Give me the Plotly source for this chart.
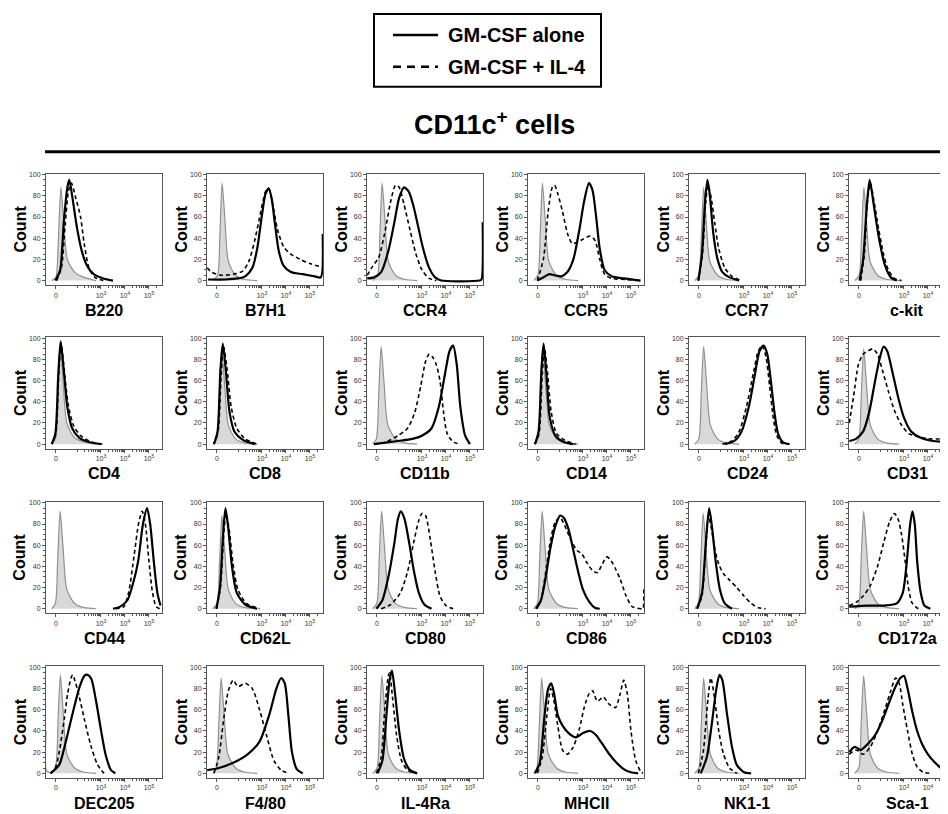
import math
import plotly.graph_objects as go

# ---------------- data (x in axis display units: 0 -> ~1.125, 10^3 -> 3, 10^4 -> 4, 10^5 -> 5) ----------------
MARKERS = ["B220", "B7H1", "CCR4", "CCR5", "CCR7", "c-kit",
           "CD4", "CD8", "CD11b", "CD14", "CD24", "CD31",
           "CD44", "CD62L", "CD80", "CD86", "CD103", "CD172a",
           "DEC205", "F4/80", "IL-4Ra", "MHCII", "NK1-1", "Sca-1"]

X_TICK_VALUES = [0, 1e3, 1e4, 1e5]
X_TICK_TEXT = ["0", "10<sup>3</sup>", "10<sup>4</sup>", "10<sup>5</sup>"]
X_MINOR_VALUES = [100, 200, 300, 400, 500, 600, 700, 800, 900,
                  2e3, 3e3, 4e3, 5e3, 6e3, 7e3, 8e3, 9e3,
                  2e4, 3e4, 4e4, 5e4, 6e4, 7e4, 8e4, 9e4, 2e5]
Y_TICKS = [0, 20, 40, 60, 80, 100]

ISOTYPE = [
    [(0.95,0),(1.12,3),(1.22,35),(1.33,88),(1.45,55),(1.6,20),(1.9,8),(2.3,3),(2.8,0)],
    [(0.95,0),(1.15,5),(1.25,45),(1.34,92),(1.45,60),(1.6,18),(1.9,5),(2.3,1),(2.8,0)],
    [(0.95,0),(1.15,5),(1.25,45),(1.34,92),(1.45,60),(1.6,18),(1.9,5),(2.3,1),(2.8,0)],
    [(0.95,0),(1.12,5),(1.22,45),(1.31,92),(1.42,60),(1.58,18),(1.9,5),(2.3,1),(2.8,0)],
    [(0.95,0),(1.12,5),(1.22,40),(1.32,88),(1.43,55),(1.58,18),(1.9,5),(2.3,1),(2.8,0)],
    [(0.95,0),(1.13,5),(1.23,40),(1.33,88),(1.44,55),(1.59,18),(1.9,5),(2.3,1),(2.8,0)],
    [(0.95,0),(1.1,5),(1.2,50),(1.3,95),(1.42,60),(1.58,20),(1.9,6),(2.3,2),(2.8,0)],
    [(0.95,0),(1.12,5),(1.22,48),(1.32,92),(1.44,58),(1.6,18),(1.9,5),(2.3,1),(2.8,0)],
    [(0.95,0),(1.1,5),(1.2,48),(1.3,92),(1.42,58),(1.58,18),(1.9,5),(2.3,1),(2.8,0)],
    [(0.95,0),(1.12,5),(1.22,48),(1.32,92),(1.44,58),(1.6,18),(1.9,5),(2.3,1),(2.8,0)],
    [(0.95,0),(1.12,5),(1.22,48),(1.32,92),(1.44,58),(1.6,18),(1.9,5),(2.3,1),(2.8,0)],
    [(0.95,0),(1.12,5),(1.22,45),(1.32,90),(1.44,56),(1.6,18),(1.9,5),(2.3,1),(2.8,0)],
    [(0.95,0),(1.1,5),(1.2,48),(1.3,92),(1.42,58),(1.58,18),(1.9,5),(2.3,1),(2.8,0)],
    [(0.95,0),(1.13,5),(1.23,42),(1.33,88),(1.45,55),(1.6,18),(1.9,5),(2.3,1),(2.8,0)],
    [(0.95,0),(1.12,5),(1.22,48),(1.32,92),(1.44,58),(1.6,18),(1.9,5),(2.3,1),(2.8,0)],
    [(0.95,0),(1.1,5),(1.2,48),(1.3,92),(1.42,58),(1.58,18),(1.9,5),(2.3,1),(2.8,0)],
    [(0.95,0),(1.1,5),(1.2,45),(1.3,90),(1.42,56),(1.58,18),(1.9,5),(2.3,1),(2.8,0)],
    [(0.95,0),(1.12,5),(1.22,48),(1.32,92),(1.44,58),(1.6,18),(1.9,5),(2.3,1),(2.8,0)],
    [(0.715,40),(0.74,2),(0.95,1),(1.12,8),(1.22,55),(1.31,93),(1.42,60),(1.58,18),(1.9,5),(2.3,1),(2.8,0)],
    [(0.95,0),(1.1,5),(1.2,45),(1.3,90),(1.42,56),(1.58,18),(1.9,5),(2.3,1),(2.8,0)],
    [(0.95,0),(1.13,5),(1.23,48),(1.33,92),(1.45,58),(1.6,18),(1.9,5),(2.3,1),(2.8,0)],
    [(0.95,0),(1.08,5),(1.18,45),(1.28,90),(1.4,56),(1.56,18),(1.9,5),(2.3,1),(2.8,0)],
    [(0.95,0),(1.12,5),(1.22,45),(1.32,90),(1.44,56),(1.6,18),(1.9,5),(2.3,1),(2.8,0)],
    [(0.95,0),(1.12,5),(1.22,48),(1.32,92),(1.44,58),(1.6,18),(1.9,5),(2.3,1),(2.8,0)],
]

GMCSF_ALONE = [
    [(1.1,0),(1.3,10),(1.45,55),(1.6,88),(1.68,95),(1.8,80),(2.0,50),(2.2,28),(2.4,15),(2.7,6),(3.1,2),(3.5,0)],
    [(0.75,1),(1.5,1),(2.0,2),(2.3,4),(2.6,12),(2.8,30),(3.0,62),(3.15,82),(3.28,87),(3.4,78),(3.55,52),(3.7,28),(3.9,14),(4.2,8),(4.7,6),(5.2,4),(5.45,3),(5.53,44)],
    [(0.72,2),(1.0,3),(1.3,8),(1.6,28),(1.85,55),(2.05,78),(2.25,88),(2.45,84),(2.65,70),(2.85,50),(3.05,30),(3.3,12),(3.55,3),(3.8,0),(5.4,0),(5.48,1),(5.53,55)],
    [(1.1,0),(1.35,3),(1.6,6),(1.8,5),(2.1,4),(2.35,8),(2.6,20),(2.85,48),(3.05,75),(3.25,92),(3.4,85),(3.55,60),(3.7,30),(3.9,10),(4.2,4),(4.7,2),(5.4,0)],
    [(1.1,0),(1.25,25),(1.38,75),(1.48,95),(1.58,80),(1.72,45),(1.9,20),(2.1,8),(2.4,3),(2.8,0)],
    [(1.15,0),(1.3,20),(1.45,70),(1.57,95),(1.7,78),(1.85,55),(2.0,35),(2.2,15),(2.45,3),(2.7,0)],
    [(0.95,0),(1.1,10),(1.22,65),(1.32,97),(1.45,70),(1.6,35),(1.8,15),(2.1,6),(2.5,2),(3.0,0)],
    [(1.0,0),(1.15,12),(1.27,70),(1.37,95),(1.5,68),(1.65,30),(1.85,12),(2.2,4),(2.7,0)],
    [(1.0,0),(2.0,3),(2.6,5),(3.0,8),(3.4,15),(3.7,35),(3.95,65),(4.15,88),(4.3,93),(4.45,75),(4.6,35),(4.8,8),(5.0,0)],
    [(1.0,0),(1.15,12),(1.27,70),(1.36,95),(1.48,65),(1.62,25),(1.85,8),(2.2,2),(2.6,0)],
    [(2.2,0),(2.6,3),(2.9,12),(3.2,35),(3.45,65),(3.65,88),(3.82,93),(3.97,85),(4.12,60),(4.27,30),(4.42,10),(4.62,2),(4.9,0)],
    [(0.72,3),(1.0,5),(1.3,12),(1.55,30),(1.8,60),(2.0,82),(2.15,92),(2.3,88),(2.5,70),(2.75,45),(3.0,25),(3.3,12),(3.7,6),(4.2,3),(4.84,2)],
    [(3.5,0),(3.8,2),(4.1,8),(4.35,25),(4.55,45),(4.75,80),(4.92,95),(5.05,80),(5.2,45),(5.35,15),(5.48,3)],
    [(1.1,0),(1.25,20),(1.38,70),(1.48,95),(1.6,75),(1.75,40),(1.95,15),(2.3,4),(2.8,0)],
    [(1.1,0),(1.35,8),(1.6,30),(1.85,62),(2.0,85),(2.12,92),(2.27,85),(2.47,62),(2.67,35),(2.87,15),(3.1,4),(3.4,0)],
    [(1.05,0),(1.25,8),(1.45,30),(1.65,58),(1.85,78),(2.05,88),(2.2,86),(2.4,75),(2.6,55),(2.8,35),(3.0,18),(3.25,7),(3.5,1),(3.7,0)],
    [(1.05,0),(1.25,15),(1.42,65),(1.55,95),(1.68,75),(1.82,45),(2.0,18),(2.2,5),(2.5,0)],
    [(0.72,2),(1.5,3),(2.2,3),(2.7,5),(2.95,15),(3.1,40),(3.25,78),(3.35,92),(3.45,80),(3.55,45),(3.7,15),(3.85,3),(4.1,0)],
    [(0.9,0),(1.26,8),(1.45,22),(1.61,37),(1.89,63),(2.1,81),(2.31,92),(2.45,93),(2.6,89),(2.79,69),(3.0,41),(3.2,17),(3.42,3),(3.6,0)],
    [(0.72,3),(1.2,5),(1.8,10),(2.4,18),(2.9,30),(3.3,55),(3.6,80),(3.8,90),(3.95,85),(4.1,55),(4.25,20),(4.45,4),(4.7,0)],
    [(1.15,0),(1.35,12),(1.52,55),(1.65,88),(1.75,97),(1.88,75),(2.05,40),(2.25,14),(2.5,3),(2.8,0)],
    [(1.0,0),(1.2,10),(1.4,55),(1.55,80),(1.68,85),(1.8,75),(1.95,55),(2.15,45),(2.4,38),(2.7,34),(3.0,38),(3.3,40),(3.55,36),(3.8,28),(4.1,18),(4.4,10),(4.7,4),(5.0,1),(5.3,0)],
    [(1.2,0),(1.45,15),(1.65,45),(1.85,80),(1.98,93),(2.1,88),(2.3,55),(2.5,25),(2.7,8),(3.0,1),(3.3,0)],
    [(0.72,20),(0.95,25),(1.2,22),(1.5,28),(1.8,36),(2.1,50),(2.4,68),(2.65,82),(2.85,90),(3.0,92),(3.15,80),(3.35,58),(3.55,40),(3.75,28),(4.0,18),(4.3,10),(4.6,4),(4.84,2)],
]

GMCSF_IL4 = [
    [(1.15,0),(1.35,12),(1.5,50),(1.65,85),(1.77,92),(1.95,78),(2.15,60),(2.3,35),(2.5,12),(2.75,3),(3.1,0)],
    [(0.72,12),(0.9,8),(1.3,5),(1.8,6),(2.2,9),(2.45,18),(2.7,38),(2.95,65),(3.15,84),(3.28,87),(3.45,72),(3.65,48),(3.9,32),(4.2,25),(4.6,20),(5.0,16),(5.45,13)],
    [(0.72,5),(0.9,12),(1.2,22),(1.45,45),(1.7,75),(1.9,90),(2.05,88),(2.25,72),(2.5,48),(2.75,25),(3.0,10),(3.3,2),(3.6,0)],
    [(1.1,0),(1.35,20),(1.55,65),(1.72,88),(1.82,90),(1.95,82),(2.15,65),(2.35,45),(2.55,35),(2.75,36),(3.0,39),(3.3,42),(3.5,38),(3.7,20),(3.9,6),(4.2,2),(4.8,1),(5.4,0)],
    [(1.1,0),(1.27,25),(1.4,72),(1.5,90),(1.62,80),(1.78,55),(1.95,30),(2.2,12),(2.5,4),(2.9,0)],
    [(1.2,0),(1.35,25),(1.48,75),(1.6,92),(1.75,75),(1.95,48),(2.15,25),(2.35,10),(2.6,2),(2.9,0)],
    [(0.95,0),(1.12,10),(1.24,65),(1.34,95),(1.47,70),(1.63,38),(1.85,18),(2.15,8),(2.6,2),(3.1,0)],
    [(1.0,0),(1.17,12),(1.3,65),(1.4,92),(1.55,70),(1.72,35),(1.95,15),(2.3,5),(2.8,0)],
    [(1.0,0),(1.5,2),(2.0,8),(2.4,15),(2.7,30),(2.95,55),(3.15,78),(3.3,85),(3.45,82),(3.6,75),(3.75,60),(3.9,30),(4.05,10),(4.3,2),(4.6,0)],
    [(1.0,0),(1.17,10),(1.3,65),(1.4,90),(1.52,68),(1.68,30),(1.9,10),(2.3,3),(2.7,0)],
    [(2.1,0),(2.5,3),(2.8,12),(3.1,35),(3.4,68),(3.6,88),(3.77,93),(3.92,82),(4.07,55),(4.22,25),(4.37,8),(4.57,1),(4.8,0)],
    [(0.72,20),(0.9,45),(1.1,75),(1.3,85),(1.5,88),(1.7,90),(1.9,85),(2.1,70),(2.35,50),(2.6,32),(2.9,18),(3.2,10),(3.6,7),(4.0,5),(4.84,5)],
    [(3.6,0),(3.95,2),(4.15,15),(4.38,50),(4.58,82),(4.72,92),(4.85,80),(5.0,45),(5.15,15),(5.3,2),(5.45,0)],
    [(1.1,0),(1.27,20),(1.4,68),(1.5,90),(1.63,75),(1.8,42),(2.0,18),(2.35,5),(2.9,0)],
    [(1.3,0),(1.7,4),(2.1,15),(2.4,35),(2.65,62),(2.85,82),(3.0,90),(3.15,88),(3.35,65),(3.55,35),(3.75,12),(4.0,3),(4.3,0)],
    [(1.05,0),(1.25,8),(1.45,35),(1.65,65),(1.85,82),(2.05,86),(2.25,78),(2.5,65),(2.75,55),(2.95,52),(3.15,44),(3.4,36),(3.6,34),(3.8,42),(4.0,49),(4.15,46),(4.35,38),(4.55,28),(4.8,12),(5.05,2),(5.4,0),(5.5,0),(5.53,20)],
    [(1.05,0),(1.25,12),(1.4,55),(1.52,88),(1.65,75),(1.8,55),(1.95,42),(2.15,33),(2.4,27),(2.7,20),(3.0,12),(3.3,5),(3.6,1),(3.9,0)],
    [(0.72,3),(1.0,6),(1.3,12),(1.6,22),(1.9,40),(2.15,62),(2.4,82),(2.6,90),(2.75,85),(2.9,70),(3.05,45),(3.2,18),(3.35,5),(3.6,0)],
    [(0.9,0),(1.1,5),(1.26,20),(1.47,51),(1.61,75),(1.75,90),(1.82,93),(1.95,85),(2.1,72),(2.31,51),(2.58,26),(2.86,8),(3.13,0)],
    [(1.0,0),(1.2,15),(1.4,50),(1.6,78),(1.8,88),(2.0,82),(2.3,85),(2.6,80),(2.9,60),(3.2,35),(3.5,12),(3.8,3),(4.1,0)],
    [(1.1,0),(1.3,15),(1.45,60),(1.6,92),(1.65,95),(1.78,70),(1.95,35),(2.15,12),(2.4,3),(2.7,0)],
    [(1.1,0),(1.3,15),(1.5,55),(1.65,80),(1.78,70),(1.95,45),(2.15,22),(2.35,18),(2.6,25),(2.85,42),(3.05,62),(3.25,75),(3.4,78),(3.6,68),(3.85,72),(4.1,65),(4.35,62),(4.55,75),(4.7,88),(4.85,75),(5.0,40),(5.2,12),(5.4,2),(5.5,0)],
    [(1.1,0),(1.3,20),(1.5,70),(1.62,90),(1.78,70),(1.95,40),(2.15,18),(2.4,5),(2.7,0)],
    [(0.72,18),(1.0,22),(1.3,18),(1.6,25),(1.9,40),(2.2,60),(2.45,78),(2.65,90),(2.8,85),(2.95,65),(3.15,40),(3.35,18),(3.55,6),(3.8,1),(4.1,0)],
]

# ---------------- layout constants (pixel positions are page pixels) ----------------
PAGE_W, PAGE_H = 948, 814
BODY_MARGIN = 8                      # default margin of the html page body
W, H = PAGE_W - BODY_MARGIN, PAGE_H - BODY_MARGIN
NARROW = "Liberation Sans Narrow, Arial Narrow, Liberation Sans, Arial, sans-serif"
REG = "Liberation Sans, Arial, sans-serif"
COL_LEFT = [46, 207, 367, 528, 689, 849]
ROW_TOP = [172, 336, 501, 666]
PANEL_W, PANEL_H = 116, 112
PX_PER_UNIT = 24.0
X_MIN = 0.71
Y_RANGE = [-4.5, 101]
AXIS_COLOR = "#555555"

C = 13.3
def disp(v):
    return math.log10(C) + math.asinh(v / (2 * C)) / math.log(10)

tickvals = [disp(v) for v in X_TICK_VALUES]
minorvals = [disp(v) for v in X_MINOR_VALUES]

def px_x(px):
    return (px - BODY_MARGIN) / W

def px_y(py):
    return 1 - (py - BODY_MARGIN) / H

fig = go.Figure()
layout = {}
annotations = []

for i, name in enumerate(MARKERS):
    r, c = divmod(i, 6)
    suf = "" if i == 0 else str(i + 1)
    left = COL_LEFT[c]
    right = min(left + PANEL_W, PAGE_W)
    top = ROW_TOP[r]
    bottom = top + PANEL_H
    xr = [X_MIN, X_MIN + (right - left) / PX_PER_UNIT]

    for data, style in ((ISOTYPE[i], "iso"), (GMCSF_IL4[i], "dash"), (GMCSF_ALONE[i], "solid")):
        xs = [p[0] for p in data]
        ys = [p[1] for p in data]
        if style == "iso":
            tr = go.Scatter(x=xs, y=ys, mode="lines", fill="tozeroy", fillcolor="#d9d9d9",
                            line=dict(color="#909090", width=1.2, shape="spline", smoothing=0.7),
                            showlegend=False, hoverinfo="skip")
        elif style == "dash":
            tr = go.Scatter(x=xs, y=ys, mode="lines",
                            line=dict(color="black", width=1.6, dash="4px,3px", shape="spline", smoothing=0.7),
                            name="GM-CSF + IL-4", showlegend=False)
        else:
            tr = go.Scatter(x=xs, y=ys, mode="lines",
                            line=dict(color="black", width=2.2, shape="spline", smoothing=0.7),
                            name="GM-CSF alone", showlegend=False)
        tr.update(xaxis="x" + suf, yaxis="y" + suf)
        fig.add_trace(tr)

    layout["xaxis" + suf] = dict(
        domain=[px_x(left), min(px_x(right), 1.0)], range=xr, anchor="y" + suf,
        showline=True, linecolor=AXIS_COLOR, linewidth=1, mirror=True,
        ticks="outside", ticklen=3, tickcolor=AXIS_COLOR, tickwidth=1,
        tickvals=tickvals, ticktext=X_TICK_TEXT,
        tickfont=dict(family=REG, size=7, color="#333333"),
        minor=dict(tickvals=minorvals, ticks="outside", ticklen=2, tickcolor=AXIS_COLOR),
        showgrid=False, zeroline=False, fixedrange=True)
    layout["yaxis" + suf] = dict(
        domain=[px_y(bottom), px_y(top)], range=Y_RANGE, anchor="x" + suf,
        showline=True, linecolor=AXIS_COLOR, linewidth=1, mirror=(c < 5),
        ticks="outside", ticklen=3, tickcolor=AXIS_COLOR, tickwidth=1,
        tickvals=Y_TICKS, tickfont=dict(family=REG, size=7, color="#333333"),
        minor=dict(dtick=5, ticks="outside", ticklen=2, tickcolor=AXIS_COLOR),
        showgrid=False, zeroline=False, fixedrange=True)

    annotations.append(dict(text="Count", x=px_x(left - 26), y=px_y(top + PANEL_H / 2),
                            xref="paper", yref="paper", xanchor="center", yanchor="middle",
                            textangle=-90, showarrow=False,
                            font=dict(family=NARROW, size=16, color="black", weight="bold")))
    annotations.append(dict(text=name, x=px_x(left + PANEL_W / 2), y=px_y(bottom + 25),
                            xref="paper", yref="paper", xanchor="center", yanchor="middle",
                            showarrow=False,
                            font=dict(family=NARROW, size=16, color="black", weight="bold")))

# title and rule
annotations.append(dict(text="CD11c<sup>+</sup> cells", x=px_x(494), y=px_y(121), xref="paper", yref="paper",
                        xanchor="center", yanchor="middle", showarrow=False,
                        font=dict(family=NARROW, size=27, color="black", weight="bold")))
shapes = [dict(type="line", xref="paper", yref="paper", x0=px_x(45), x1=1, y0=px_y(150), y1=px_y(150),
               line=dict(color="black", width=3))]

# legend box
shapes.append(dict(type="rect", xref="paper", yref="paper", x0=px_x(374), x1=px_x(601),
                   y0=px_y(85), y1=px_y(12), line=dict(color="black", width=2)))
shapes.append(dict(type="line", xref="paper", yref="paper", x0=px_x(393), x1=px_x(438),
                   y0=px_y(33), y1=px_y(33), line=dict(color="black", width=2.5)))
shapes.append(dict(type="line", xref="paper", yref="paper", x0=px_x(393), x1=px_x(438),
                   y0=px_y(65), y1=px_y(65), line=dict(color="black", width=2.5, dash="8px,6px")))
annotations.append(dict(text="GM-CSF alone", x=px_x(446), y=px_y(33), xref="paper", yref="paper",
                        xanchor="left", yanchor="middle", showarrow=False,
                        font=dict(family=REG, size=20, color="black", weight="bold")))
annotations.append(dict(text="GM-CSF + IL-4", x=px_x(446), y=px_y(65), xref="paper", yref="paper",
                        xanchor="left", yanchor="middle", showarrow=False,
                        font=dict(family=REG, size=20, color="black", weight="bold")))

fig.update_layout(width=W, height=H, margin=dict(l=0, r=0, t=0, b=0),
                  paper_bgcolor="white", plot_bgcolor="white",
                  annotations=annotations, shapes=shapes, showlegend=False, **layout)
fig.write_html("out.html")
